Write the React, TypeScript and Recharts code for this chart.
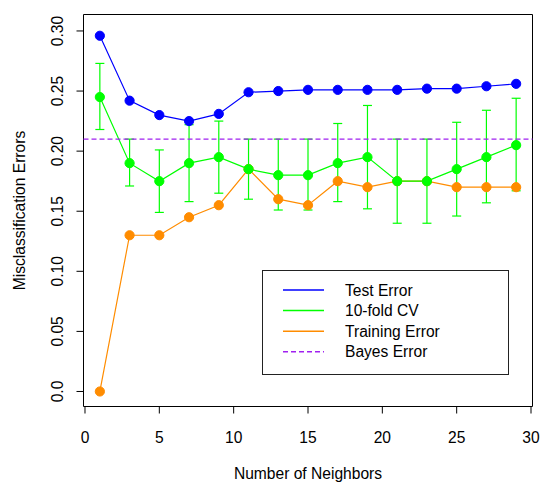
import { ComposedChart, Line, XAxis, YAxis, ErrorBar, ReferenceLine, ReferenceArea } from 'recharts'

const neighbors = [1, 3, 5, 7, 9, 11, 13, 15, 17, 19, 21, 23, 25, 27, 29]
const testError = [0.296, 0.242, 0.23, 0.225, 0.231, 0.249, 0.25, 0.251, 0.251, 0.251, 0.251, 0.252, 0.252, 0.254, 0.256]
const cvError = [0.245, 0.19, 0.175, 0.19, 0.195, 0.185, 0.18, 0.18, 0.19, 0.195, 0.175, 0.175, 0.185, 0.195, 0.205]
const cvUpper = [0.273, 0.21, 0.201, 0.222, 0.225, 0.21, 0.21, 0.21, 0.223, 0.238, 0.21, 0.21, 0.224, 0.234, 0.244]
const cvLower = [0.218, 0.171, 0.149, 0.158, 0.165, 0.16, 0.151, 0.151, 0.158, 0.152, 0.14, 0.14, 0.146, 0.157, 0.167]
const trainError = [0.0, 0.13, 0.13, 0.145, 0.155, 0.185, 0.16, 0.155, 0.175, 0.17, 0.175, 0.175, 0.17, 0.17, 0.17]
const bayesError = 0.21

const xTicks = [0, 5, 10, 15, 20, 25, 30]
const yTicks = [0, 0.05, 0.1, 0.15, 0.2, 0.25, 0.3]
const xDomain = [-0.1, 30.1]
const yDomain = [-0.0125, 0.3137]

const legendItems = [
  { label: 'Test Error', color: '#0000ff', dashed: false },
  { label: '10-fold CV', color: '#00ff00', dashed: false },
  { label: 'Training Error', color: '#ff8c00', dashed: false },
  { label: 'Bayes Error', color: '#a020f0', dashed: true },
]

const data = neighbors.map((k, i) => ({
  k,
  test: testError[i],
  cv: cvError[i],
  cvErr: [cvError[i] - cvLower[i], cvUpper[i] - cvError[i]],
  train: trainError[i],
}))

const FONT = '"Liberation Sans", Arial, sans-serif'
const FS = 15.6

function YTick({ x, y, payload }: any) {
  const label = payload.value === 0 ? '0.0' : payload.value.toFixed(2)
  return (
    <text x={x} y={y} transform={`rotate(-90 ${x} ${y})`} textAnchor="middle" fill="#000" fontSize={FS} fontFamily={FONT}>
      {label}
    </text>
  )
}

function XTitle({ viewBox }: any) {
  return (
    <text x={viewBox.x + viewBox.width / 2} y={viewBox.y + 72.5} textAnchor="middle" fill="#000" fontSize={FS} fontFamily={FONT}>
      Number of Neighbors
    </text>
  )
}

function YTitle({ viewBox }: any) {
  const cx = 25
  const cy = viewBox.y + viewBox.height / 2
  return (
    <text x={cx} y={cy} transform={`rotate(-90 ${cx} ${cy})`} textAnchor="middle" fill="#000" fontSize={FS} fontFamily={FONT}>
      Misclassification Errors
    </text>
  )
}

function LegendBox() {
  return (
    <svg width={248} height={106} style={{ position: 'absolute', left: 262, top: 270 }}>
      <rect x={0.5} y={0.5} width={246} height={104} fill="#fff" stroke="#222" />
      {legendItems.map((item, i) => {
        const y = 20 + i * 20.6
        return (
          <g key={item.label}>
            <line x1={21} x2={62} y1={y} y2={y} stroke={item.color} strokeWidth={1.5} strokeDasharray={item.dashed ? '5 3' : undefined} />
            <text x={83} y={y + 5.5} fill="#000" fontSize={FS} fontFamily={FONT}>
              {item.label}
            </text>
          </g>
        )
      })}
    </svg>
  )
}

export default function App() {
  return (
    <div style={{ position: 'absolute', left: 0, top: 0, width: 541, height: 482, background: '#fff' }}>
      <ComposedChart width={541} height={482} data={data} margin={{ top: 14.5, right: 8.5, bottom: 0, left: 0 }}>
        <XAxis
          dataKey="k"
          type="number"
          domain={xDomain}
          ticks={xTicks}
          allowDataOverflow
          axisLine={false}
          tickSize={7}
          tickMargin={18}
          tickLine={{ stroke: '#000' }}
          tick={{ fill: '#000', fontSize: FS, fontFamily: FONT }}
          height={75.5}
          label={<XTitle />}
        />
        <YAxis
          type="number"
          domain={yDomain}
          ticks={yTicks}
          allowDataOverflow
          axisLine={false}
          tickSize={7}
          tickMargin={13}
          tickLine={{ stroke: '#000' }}
          tick={<YTick />}
          width={83.5}
          label={<YTitle />}
        />
        <ReferenceArea x1={xDomain[0]} x2={xDomain[1]} y1={yDomain[0]} y2={yDomain[1]} fill="none" stroke="#000" strokeWidth={1} fillOpacity={0} />
        <Line dataKey="cv" stroke="none" dot={false} activeDot={false} isAnimationActive={false}>
          <ErrorBar dataKey="cvErr" direction="y" width={4.5} stroke="#00ff00" strokeWidth={1.2} />
        </Line>
        <Line dataKey="train" stroke="#ff8c00" strokeWidth={1.2} dot={{ r: 4.6, fill: '#ff8c00', stroke: '#ff8c00', strokeWidth: 1 }} activeDot={false} isAnimationActive={false} />
        <Line dataKey="cv" stroke="#00ff00" strokeWidth={1.2} dot={{ r: 4.6, fill: '#00ff00', stroke: '#00ff00', strokeWidth: 1 }} activeDot={false} isAnimationActive={false} />
        <Line dataKey="test" stroke="#0000ff" strokeWidth={1.2} dot={{ r: 4.6, fill: '#0000ff', stroke: '#0000ff', strokeWidth: 1 }} activeDot={false} isAnimationActive={false} />
        <ReferenceLine y={bayesError} stroke="#a020f0" strokeWidth={1.2} strokeDasharray="5 3" />
      </ComposedChart>
      <LegendBox />
    </div>
  )
}
